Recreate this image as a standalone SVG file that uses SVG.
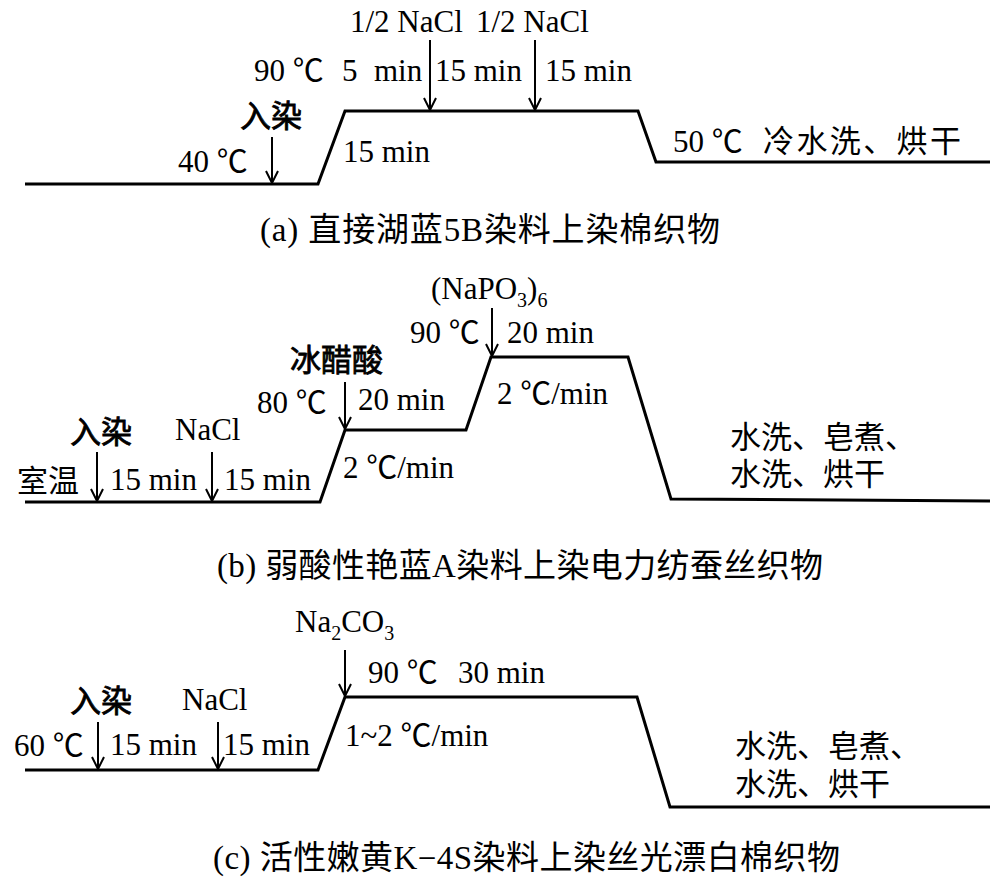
<svg xmlns="http://www.w3.org/2000/svg" width="1000" height="887" viewBox="0 0 1000 887">
<style>
.t{font-family:"Liberation Serif","Noto Sans CJK SC",serif;font-size:31px;fill:#000}
.b{stroke:#000;stroke-width:0.8}
.cap{font-size:33px}
.sub{font-size:20px}
.curve{fill:none;stroke:#000;stroke-width:3;stroke-linejoin:miter}
.arr{stroke:#000;stroke-width:2;marker-end:url(#ah)}
</style>
<defs>
<marker id="ah" viewBox="0 0 12 12" refX="12" refY="6" markerWidth="12" markerHeight="12" markerUnits="userSpaceOnUse" orient="auto" overflow="visible">
<path d="M0,0 L12,6 L0,12" fill="none" stroke="#000" stroke-width="2"/>
</marker>
</defs>
<rect width="1000" height="887" fill="#fff"/>
<g id="connectors">
<polyline class="curve" points="25,184 318,184 345,111 638,111 656,162 990,162"/>
<polyline class="curve" points="25,502 320,502 345,430 466,430 491,357 628,357 671,499 990,501"/>
<polyline class="curve" points="25,770 318,770 345,697 637,697 670,807 990,807"/>
<line class="arr" x1="272" y1="137" x2="272" y2="183"/>
<line class="arr" x1="430" y1="40" x2="430" y2="110"/>
<line class="arr" x1="535" y1="40" x2="535" y2="110"/>
<line class="arr" x1="97" y1="452" x2="97" y2="501"/>
<line class="arr" x1="212" y1="452" x2="212" y2="501"/>
<line class="arr" x1="345" y1="382" x2="345" y2="429"/>
<line class="arr" x1="492" y1="308" x2="492" y2="356"/>
<line class="arr" x1="98" y1="722" x2="98" y2="769"/>
<line class="arr" x1="218" y1="722" x2="218" y2="769"/>
<line class="arr" x1="345" y1="650" x2="345" y2="696"/>
</g>
<g id="panel-a">
<text id="a-nacl1" class="t" x="350" y="32">1/2 NaCl</text>
<text id="a-nacl2" class="t" x="476" y="32">1/2 NaCl</text>
<text id="a-90" class="t" x="254" y="81">90 ℃</text>
<text id="a-5min" class="t" x="342" y="81">5 <tspan x="374">min</tspan></text>
<text id="a-15min1" class="t" x="435" y="81">15 min</text>
<text id="a-15min2" class="t" x="545" y="81">15 min</text>
<text id="a-rr" class="t b" x="240" y="127">入染</text>
<text id="a-40" class="t" x="178" y="172">40 ℃</text>
<text id="a-ramp" class="t" x="343" y="162">15 min</text>
<text id="a-50" class="t" x="673" y="152">50 ℃</text>
<text id="a-wash" class="t" x="763" y="152" textLength="198" lengthAdjust="spacing">冷水洗、烘干</text>
<text id="a-cap" class="t cap" x="260" y="241" textLength="460" lengthAdjust="spacing">(a) 直接湖蓝5B染料上染棉织物</text>
</g>
<g id="panel-b">
<text id="b-room" class="t" x="17" y="492">室温</text>
<text id="b-rr" class="t b" x="70" y="443">入染</text>
<text id="b-nacl" class="t" x="175" y="440">NaCl</text>
<text id="b-15min1" class="t" x="110" y="490">15 min</text>
<text id="b-15min2" class="t" x="224" y="490">15 min</text>
<text id="b-ramp1" class="t" x="343" y="478">2 ℃/min</text>
<text id="b-80" class="t" x="257" y="413">80 ℃</text>
<text id="b-acid" class="t b" x="290" y="371">冰醋酸</text>
<text id="b-20min1" class="t" x="358" y="410">20 min</text>
<text id="b-napo" class="t" x="431" y="299">(NaPO<tspan class="sub" dy="8">3</tspan><tspan dy="-8">)</tspan><tspan class="sub" dy="8">6</tspan></text>
<text id="b-90" class="t" x="410" y="343">90 ℃</text>
<text id="b-20min2" class="t" x="507" y="343">20 min</text>
<text id="b-ramp2" class="t" x="497" y="404">2 ℃/min</text>
<text id="b-wash1" class="t" x="730" y="448">水洗、皂煮、</text>
<text id="b-wash2" class="t" x="730" y="485">水洗、烘干</text>
<text id="b-cap" class="t cap" x="217" y="577" textLength="606" lengthAdjust="spacing">(b) 弱酸性艳蓝A染料上染电力纺蚕丝织物</text>
</g>
<g id="panel-c">
<text id="c-60" class="t" x="14" y="756">60 ℃</text>
<text id="c-rr" class="t b" x="70" y="712">入染</text>
<text id="c-nacl" class="t" x="182" y="710">NaCl</text>
<text id="c-15min1" class="t" x="110" y="755">15 min</text>
<text id="c-15min2" class="t" x="223" y="755">15 min</text>
<text id="c-na2co3" class="t" x="295" y="632">Na<tspan class="sub" dy="8">2</tspan><tspan dy="-8">CO</tspan><tspan class="sub" dy="8">3</tspan></text>
<text id="c-90" class="t" x="368" y="683">90 ℃</text>
<text id="c-30min" class="t" x="458" y="683">30 min</text>
<text id="c-ramp" class="t" x="345" y="746">1~2 ℃/min</text>
<text id="c-wash1" class="t" x="735" y="757">水洗、皂煮、</text>
<text id="c-wash2" class="t" x="735" y="795">水洗、烘干</text>
<text id="c-cap" class="t cap" x="213" y="869" textLength="627" lengthAdjust="spacing">(c) 活性嫩黄K−4S染料上染丝光漂白棉织物</text>
</g>
</svg>
